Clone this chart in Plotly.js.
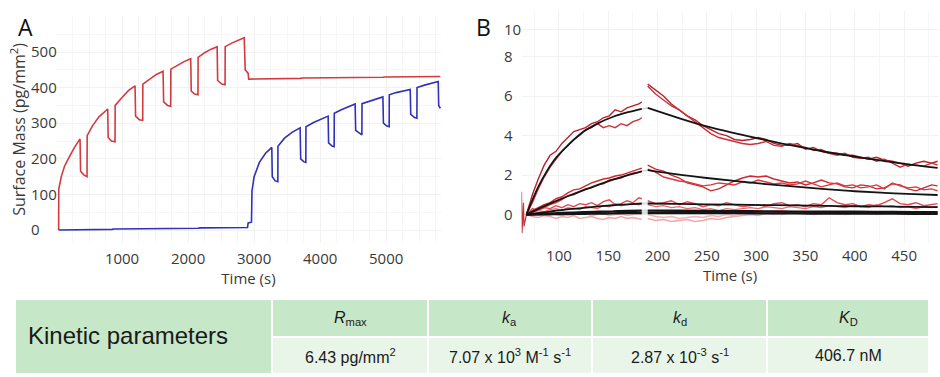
<!DOCTYPE html>
<html>
<head>
<meta charset="utf-8">
<script src="https://cdn.plot.ly/plotly-3.0.1.min.js"></script>
<style>html,body{margin:0;padding:0;background:#fff;}#chart{width:940px;height:377px;}</style>
</head>
<body>
<div id="chart"></div>
<script>
// ---------- Panel A data (time in s, surface mass in pg/mm2) ----------
const aRedT = [40,42,80,130,200,280,364,372,420,470,472,550,650,783,790,840,894,896,1000,1100,1197,1205,1260,1313,1315,1420,1520,1621,1630,1690,1737,1739,1840,1940,2040,2048,2100,2150,2152,2250,2350,2440,2448,2510,2560,2562,2660,2760,2850,2865,2890,2910,2918,3300,3330,3700,3730,4100,4130,4500,4530,4950,4980,5350,5380,5820];
const aRedY = [0,115,150,180,205,232,256,165,155,150,265,292,318,340,260,250,248,350,372,392,405,320,310,308,410,425,437,446,360,350,348,452,463,473,481,390,382,380,485,498,508,515,420,410,408,515,525,533,540,450,445,440,424,424,426,426,427,427,428,428,429,429,430,430,431,431];
const aBlueT = [40,400,430,850,880,1300,1330,1720,1750,2150,2180,2560,2590,2900,2910,2960,2968,3000,3080,3170,3268,3275,3320,3359,3361,3460,3580,3697,3705,3750,3783,3785,3900,4010,4121,4128,4180,4212,4214,4320,4430,4530,4538,4600,4632,4634,4740,4850,4950,4958,5010,5045,5047,5150,5260,5364,5372,5430,5465,5467,5580,5690,5788,5795,5820];
const aBlueY = [0,0,2,2,3,3,4,4,5,5,6,6,7,7,20,22,110,150,190,215,232,150,138,136,235,258,275,287,200,192,190,290,302,312,320,245,236,234,328,338,347,354,280,270,267,355,362,369,374,300,292,290,380,386,391,395,325,316,314,400,407,412,417,350,342];
const aXTicks = [1000,2000,3000,4000,5000];
const aYTicks = [0,100,200,300,400,500];

// ---------- Panel B data (time in s, response) ----------
const tAssoc = [67,73,79,85,91,97,103,109,115,121,127,133,139,145,151,157,163,169,175,181,184];
const tDiss = [190,198,206,214,222,230,238,246,254,262,270,278,286,294,302,310,318,326,334,342,350,358,366,374,382,390,398,406,414,422,430,438,446,454,462,470,478,484];

const r1aA = [0,1.0,1.8,2.5,3.0,3.2,3.6,3.9,4.2,4.3,4.4,4.6,4.7,4.9,5.0,5.3,5.2,5.4,5.5,5.6,5.7];
const r1bA = [0,0.6,1.3,1.9,2.4,2.8,3.2,3.5,3.8,4.0,4.3,4.4,4.6,4.4,4.5,4.4,4.6,4.5,4.7,4.8,4.9];
const r1aD = [6.6,6.3,6.0,5.6,5.3,5.0,4.8,4.5,4.3,4.1,4.0,3.8,3.75,3.8,3.9,3.8,3.6,3.5,3.5,3.6,3.3,3.4,3.2,3.1,3.1,3.0,3.0,2.9,2.8,2.9,2.75,2.7,2.6,2.45,2.6,2.7,2.6,2.7];
const r1bD = [6.5,6.1,5.8,5.5,5.3,5.0,4.7,4.4,4.1,3.9,3.8,3.7,3.6,3.55,3.6,3.7,3.5,3.45,3.6,3.5,3.4,3.25,3.3,3.1,3.0,3.1,2.9,2.85,2.9,2.7,2.8,2.6,2.4,2.55,2.5,2.45,2.6,2.5];

const r2aA = [0,0.2,0.35,0.5,0.6,0.8,0.9,1.1,1.25,1.3,1.45,1.6,1.7,1.8,1.85,1.95,2.0,2.1,2.2,2.3,2.35];
const r2bA = [0,0.1,0.25,0.35,0.5,0.6,0.75,0.95,1.0,1.15,1.3,1.35,1.5,1.55,1.75,1.8,1.85,2.0,2.1,2.15,2.2];
const r2aD = [2.5,2.3,2.2,2.0,1.85,1.6,1.5,1.4,1.2,1.3,1.5,1.7,1.85,1.95,1.9,1.95,1.8,1.7,1.6,1.65,1.5,1.6,1.75,1.6,1.55,1.4,1.35,1.5,1.45,1.3,1.35,1.55,1.5,1.3,1.2,1.35,1.5,1.45];
const r2bD = [2.3,2.15,1.9,1.8,1.7,1.65,1.55,1.45,1.5,1.6,1.55,1.5,1.65,1.6,1.75,1.65,1.55,1.6,1.5,1.55,1.7,1.55,1.4,1.5,1.6,1.45,1.5,1.35,1.4,1.5,1.3,1.6,1.45,1.35,1.4,1.25,1.3,1.2];

const r3aA = [0,0.3,0.2,0.35,0.3,0.45,0.35,0.5,0.4,0.55,0.5,0.6,0.45,0.65,0.75,0.5,0.55,0.7,0.6,0.85,0.8];
const r3bA = [0,0.1,0.2,0.15,0.25,0.3,0.2,0.35,0.3,0.25,0.4,0.35,0.3,0.45,0.4,0.55,0.45,0.5,0.55,0.5,0.55];
const r3aD = [0.7,0.55,0.6,0.7,0.5,0.65,0.55,0.4,0.5,0.45,0.6,0.5,0.4,0.45,0.5,0.4,0.55,0.6,0.45,0.5,0.4,0.55,0.5,0.85,0.6,0.5,0.55,0.4,0.5,0.45,0.6,0.8,0.55,0.5,0.6,0.45,0.5,0.55];
const r3bD = [0.5,0.4,0.45,0.35,0.4,0.3,0.35,0.25,0.3,0.2,0.3,0.25,0.3,0.35,0.3,0.4,0.35,0.3,0.4,0.35,0.3,0.4,0.35,0.45,0.4,0.35,0.45,0.4,0.35,0.5,0.4,0.45,0.35,0.4,0.3,0.4,0.35,0.4];

const r4aA = [0,-0.1,-0.15,-0.05,-0.1,-0.2,-0.1,-0.15,-0.05,-0.2,-0.15,-0.1,-0.2,-0.25,-0.15,-0.2,-0.1,-0.2,-0.15,-0.2,-0.25];
const r4bA = [0,0.05,0,-0.05,0.05,0,-0.05,0.05,0.1,0,0.05,-0.05,0,0.05,-0.05,0,0.05,-0.05,0,0.05,0];
const r4aD = [-0.2,-0.3,-0.25,-0.35,-0.3,-0.25,-0.35,-0.3,-0.2,-0.25,-0.15,-0.1,-0.05,0,-0.05,0.05,0,0.05,0.1,0.05,0.1,0.05,0.1,0.15,0.1,0.05,0.1,0.15,0.1,0.05,0.1,0.15,0.1,0.05,0.1,0.15,0.1,0.1];
const r4bD = [0,-0.1,-0.15,-0.1,-0.2,-0.15,-0.1,-0.15,-0.05,-0.1,0,-0.05,0.05,0,0.05,0.1,0.05,0,0.05,0.1,0.05,0,0.05,0.1,0.05,0,0.05,0.1,0.05,0,0.05,0.1,0.05,0,0.05,0.1,0.05,0];

const spikeT = [62,62.5,64,64.5,67];
const spikeY = [1.15,-0.95,0.6,-0.6,0];

const tFitA = [67,80,95,110,125,140,155,170,184];
const tFitD = [190,220,250,280,310,340,370,400,430,460,484];
const fit1A = [0,1.5,2.75,3.55,4.2,4.63,4.95,5.18,5.35];
const fit1D = [5.4,4.91,4.46,4.1,3.77,3.46,3.18,2.93,2.71,2.5,2.36];
const fit2A = [0,0.31,0.64,0.95,1.24,1.51,1.77,2.0,2.19];
const fit2D = [2.25,2.03,1.85,1.69,1.54,1.41,1.29,1.18,1.1,1.03,0.99];
const fit3A = [0,0.09,0.18,0.27,0.34,0.41,0.47,0.52,0.56];
const fit3D = [0.56,0.54,0.52,0.5,0.48,0.46,0.44,0.42,0.41,0.39,0.38];
const fit4A = [0,0.03,0.06,0.09,0.12,0.14,0.16,0.18,0.2];
const fit4D = [0.2,0.19,0.18,0.17,0.16,0.15,0.14,0.14,0.13,0.12,0.12];
const fit5A = [0,0.01,0.02,0.03,0.04,0.05,0.06,0.07,0.08];
const fit5D = [0.08,0.08,0.07,0.07,0.06,0.06,0.05,0.05,0.05,0.04,0.04];

const bXTicks = [100,150,200,250,300,350,400,450];
const bYTickVals = [0,2,4,6,8,9.35];
const bYTickText = ['0','2','4','6','8','10'];

// ---------- Table ----------
const tableTitle = 'Kinetic parameters';
const tableHeaders = ['<i>R</i><sub>max</sub>','<i>k</i><sub>a</sub>','<i>k</i><sub>d</sub>','<i>K</i><sub>D</sub>'];
const tableValues = ['6.43 pg/mm<sup>2</sup>','7.07 x 10<sup>3</sup> M<sup>-1</sup> s<sup>-1</sup>','2.87 x 10<sup>-3</sup> s<sup>-1</sup>','406.7 nM'];

// ---------- Build traces ----------
const traces = [];
traces.push({x:aRedT, y:aRedY, xaxis:'x', yaxis:'y', mode:'lines', line:{color:'#d23a3f', width:1.6}, hoverinfo:'skip'});
traces.push({x:aBlueT, y:aBlueY, xaxis:'x', yaxis:'y', mode:'lines', line:{color:'#3030b8', width:1.6}, hoverinfo:'skip'});

const redSets = [
  [r4aA, r4aD, '#f2a6ac'], [r4bA, r4bD, '#f4b4b8'],
  [r3aA, r3aD, '#e04a50'], [r3bA, r3bD, '#e86a70'],
  [r2aA, r2aD, '#cc2a30'], [r2bA, r2bD, '#d8383e'],
  [r1aA, r1aD, '#b8222a'], [r1bA, r1bD, '#c8323a']
];
redSets.forEach(s => {
  traces.push({x:tAssoc, y:s[0], xaxis:'x2', yaxis:'y2', mode:'lines', line:{color:s[2], width:1.4}, hoverinfo:'skip'});
  traces.push({x:tDiss, y:s[1], xaxis:'x2', yaxis:'y2', mode:'lines', line:{color:s[2], width:1.4}, hoverinfo:'skip'});
});
traces.push({x:spikeT, y:spikeY, xaxis:'x2', yaxis:'y2', mode:'lines', line:{color:'#c8323a', width:1.2}, hoverinfo:'skip'});

const fitSets = [[fit5A, fit5D, 2.4], [fit4A, fit4D, 2.4], [fit3A, fit3D, 1.8], [fit2A, fit2D, 1.8], [fit1A, fit1D, 1.8]];
fitSets.forEach(f => {
  traces.push({x:[tFitA[tFitA.length-1], tFitD[0]], y:[f[0][f[0].length-1], f[1][0]], xaxis:'x2', yaxis:'y2', mode:'lines', line:{color:'#d9d9d9', width:f[2]}, hoverinfo:'skip'});
  traces.push({x:tFitA, y:f[0], xaxis:'x2', yaxis:'y2', mode:'lines', line:{color:'#141414', width:f[2], shape:'spline'}, hoverinfo:'skip'});
  traces.push({x:tFitD, y:f[1], xaxis:'x2', yaxis:'y2', mode:'lines', line:{color:'#141414', width:f[2], shape:'spline'}, hoverinfo:'skip'});
});

// ---------- Layout helpers (pixel -> paper) ----------
const W = 940, H = 377;
const px = v => v / W;
const py = v => (H - v) / H;

const shapes = [];
const annotations = [];
const green = '#c6e8c8', light = '#e8f5e8';
shapes.push({type:'rect', xref:'paper', yref:'paper', x0:px(16), x1:px(271), y0:py(373), y1:py(300), fillcolor:green, line:{width:0}, layer:'below'});
const cols = [[273,427],[429,591],[593,766],[768,928]];
cols.forEach((c,i) => {
  shapes.push({type:'rect', xref:'paper', yref:'paper', x0:px(c[0]), x1:px(c[1]), y0:py(336), y1:py(300), fillcolor:green, line:{width:0}, layer:'below'});
  shapes.push({type:'rect', xref:'paper', yref:'paper', x0:px(c[0]), x1:px(c[1]), y0:py(373), y1:py(338), fillcolor:light, line:{width:0}, layer:'below'});
  annotations.push({xref:'paper', yref:'paper', x:px((c[0]+c[1])/2), y:py(318), text:tableHeaders[i], showarrow:false, xanchor:'center', yanchor:'middle', font:{family:'Liberation Sans, Arial', size:16, color:'#1a1a1a'}});
  annotations.push({xref:'paper', yref:'paper', x:px((c[0]+c[1])/2), y:py(355.5), text:tableValues[i], showarrow:false, xanchor:'center', yanchor:'middle', font:{family:'Liberation Sans, Arial', size:16, color:'#1a1a1a'}});
});
annotations.push({xref:'paper', yref:'paper', x:px(26), y:py(335), text:tableTitle, showarrow:false, xanchor:'left', yanchor:'middle', font:{family:'Liberation Sans, Arial', size:24, color:'#1a1a1a'}});
annotations.push({xref:'paper', yref:'paper', x:px(16), y:py(27), text:'A', showarrow:false, xanchor:'left', yanchor:'middle', font:{family:'Open Sans', size:23, color:'#111'}});
annotations.push({xref:'paper', yref:'paper', x:px(474), y:py(27), text:'B', showarrow:false, xanchor:'left', yanchor:'middle', font:{family:'Open Sans', size:23, color:'#111'}});

const tickFont = {family:'Open Sans', size:15, color:'#3a3a3a'};
const layout = {
  width:W, height:H,
  margin:{l:0, r:0, t:0, b:0},
  paper_bgcolor:'#ffffff', plot_bgcolor:'#ffffff',
  showlegend:false,
  font:{family:'Open Sans', size:14, color:'#3a3a3a'},
  xaxis:{domain:[px(56), px(441)], range:[0,5830], tickvals:aXTicks, tickfont:tickFont, showline:false, zeroline:false,
         showgrid:true, gridcolor:'#f1f1f1', ticks:'', anchor:'y', ticklabelstandoff:5,
         minor:{dtick:250, showgrid:true, gridcolor:'#f6f6f6'},
         title:{text:'Time (s)', font:{family:'Open Sans', size:15, color:'#3a3a3a'}, standoff:5}},
  yaxis:{domain:[py(242.5), py(16.4)], range:[-35,600], tickvals:aYTicks, tickfont:tickFont, showline:false, zeroline:false,
         showgrid:true, gridcolor:'#f1f1f1', ticks:'', anchor:'free', position:px(27), ticklabelposition:'inside',
         minor:{dtick:50, showgrid:true, gridcolor:'#f6f6f6'},
         title:{text:'Surface Mass (pg/mm<sup>2</sup>)', font:{family:'Open Sans', size:16, color:'#3a3a3a'}, standoff:0}},
  xaxis2:{domain:[px(521.5), px(938.6)], range:[62,485], tickvals:bXTicks, tickfont:tickFont, showline:false, zeroline:false,
          showgrid:true, gridcolor:'#f1f1f1', ticks:'', anchor:'y2', ticklabelstandoff:3,
          minor:{dtick:25, showgrid:true, gridcolor:'#f6f6f6'},
          title:{text:'Time (s)', font:{family:'Open Sans', size:15, color:'#3a3a3a'}, standoff:5}},
  yaxis2:{domain:[py(242.2), py(11.1)], range:[-1.4,10.3], tickvals:bYTickVals, ticktext:bYTickText, tickfont:tickFont,
          showline:false, zeroline:false, showgrid:true, gridcolor:'#f1f1f1', ticks:'', anchor:'free', position:px(500), ticklabelposition:'inside'},
  shapes:shapes,
  annotations:annotations
};

Plotly.newPlot('chart', traces, layout, {displayModeBar:false, staticPlot:true});
</script>
</body>
</html>
